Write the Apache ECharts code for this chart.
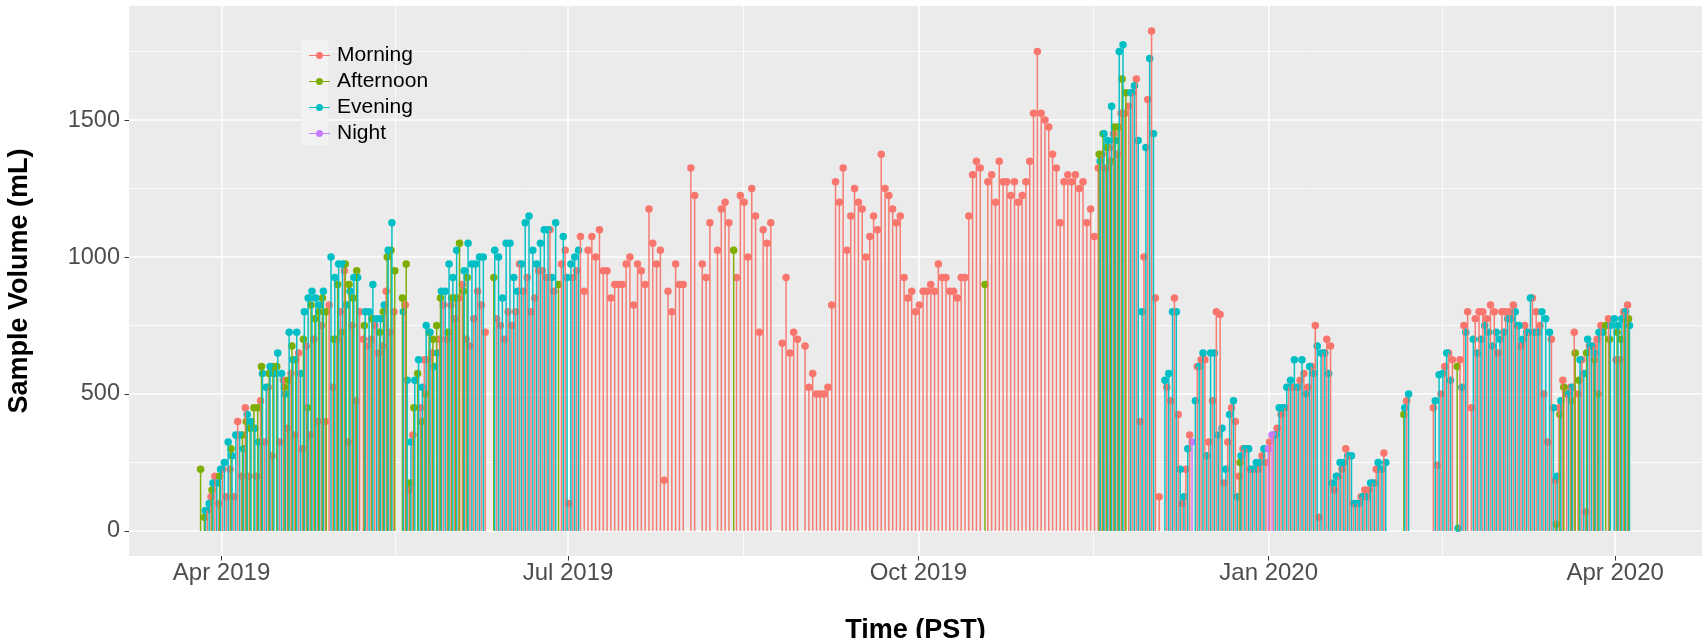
<!DOCTYPE html>
<html>
<head>
<meta charset="utf-8">
<title>Sample Volume</title>
<style>
  html, body { margin: 0; padding: 0; background: #fff; }
  #main { width: 1706px; height: 638px; }
</style>
<script src="https://cdn.jsdelivr.net/npm/echarts@6/dist/echarts.min.js"></script>
</head>
<body>
<div id="main"></div>
<script>
// x is days since 2019-04-01, each pair is [day, volume in mL]
const xTickDays = [0, 91, 183, 275, 366];
const xTickLabels = ['Apr 2019', 'Jul 2019', 'Oct 2019', 'Jan 2020', 'Apr 2020'];
const xMinorDays = [45.5, 137, 229, 320.5];
const yTicks = [0, 500, 1000, 1500];
const yMinor = [250, 750, 1250, 1750];

const morning = [
  [-4,75],[-3,125],[-2,200],[-1,100],[0,225],[1,125],[2,225],[3,125],[4,400],[5,200],[6,450],[7,200],[9,200],[10,475],
  [11,325],[12,525],[13,275],[15,325],[16,550],[17,375],[18,575],[19,350],[20,650],[21,300],[22,675],[23,350],[24,700],
  [25,400],[26,750],[27,400],[28,825],[29,525],[30,700],[31,800],[32,950],[33,325],[34,750],[35,475],[36,800],[37,700],
  [38,675],[39,700],[40,750],[41,650],[42,675],[43,875],[44,725],[45,800],[48,825],[49,150],[50,350],[52,450],[53,625],
  [54,625],[55,650],[57,700],[58,825],[59,700],[60,825],[61,775],[62,850],[63,900],[64,700],[65,675],[66,775],[67,875],
  [68,825],[69,725],[72,775],[73,750],[74,700],[75,800],[76,750],[77,800],[78,975],[79,875],[80,925],[81,800],[82,850],
  [83,950],[84,950],[85,925],[86,1100],[87,875],[89,975],[90,1025],[91,100],[92,925],[93,950],[94,1075],[95,875],[96,1025],
  [97,1075],[98,1000],[99,1100],[100,950],[101,950],[102,850],[103,900],[104,900],[105,900],[106,975],[107,1000],[108,825],
  [109,975],[110,950],[111,900],[112,1175],[113,1050],[114,975],[115,1025],[116,185],[117,875],[118,800],[119,975],[120,900],
  [121,900],[123,1325],[124,1225],[126,975],[127,925],[128,1125],[130,1025],[131,1175],[132,1200],[133,1125],[135,925],
  [136,1225],[137,1200],[138,1000],[139,1250],[140,1150],[141,725],[142,1100],[143,1050],[144,1125],[147,685],[148,925],
  [149,650],[150,725],[151,700],[153,675],[154,525],[155,575],[156,500],[157,500],[158,500],[159,525],[160,825],[161,1275],
  [162,1200],[163,1325],[164,1025],[165,1150],[166,1250],[167,1200],[168,1175],[169,1000],[170,1075],[171,1150],[172,1100],
  [173,1375],[174,1250],[175,1225],[176,1175],[177,1125],[178,1150],[179,925],[180,850],[181,875],[182,800],[183,825],
  [184,875],[185,875],[186,900],[187,875],[188,975],[189,925],[190,925],[191,875],[192,875],[193,850],[194,925],[195,925],
  [196,1150],[197,1300],[198,1350],[199,1325],[201,1275],[202,1300],[203,1200],[204,1350],[205,1275],[206,1275],[207,1225],
  [208,1275],[209,1200],[210,1225],[211,1275],[212,1350],[213,1525],[214,1750],[215,1525],[216,1500],[217,1475],[218,1375],
  [219,1325],[220,1125],[221,1275],[222,1300],[223,1275],[224,1300],[225,1250],[226,1275],[227,1125],[228,1175],[229,1075],
  [230,1325],[231,1375],[232,1325],[233,1400],[234,1450],[235,1375],[236,1525],[237,1525],[238,1550],[239,1600],[240,1650],
  [241,400],[242,1000],[243,1575],[244,1825],[245,850],[246,125],[248,525],[249,475],[250,850],[251,425],[252,100],[253,225],
  [254,350],[256,600],[257,625],[258,625],[259,325],[260,475],[261,800],[262,790],[263,175],[264,325],[265,450],[266,400],
  [267,200],[268,300],[269,300],[270,225],[271,225],[272,225],[273,275],[274,250],[275,325],[276,350],[277,375],[278,425],
  [279,450],[280,525],[281,525],[282,525],[283,550],[284,575],[285,525],[286,600],[287,750],[288,50],[289,650],[290,700],
  [291,675],[292,150],[293,200],[294,225],[295,300],[296,275],[297,100],[298,100],[299,125],[300,150],[301,150],[302,175],
  [303,225],[304,225],[305,285],[311,475],[318,450],[319,240],[320,500],[321,600],[322,650],[323,625],[325,625],[326,750],
  [327,800],[328,450],[329,775],[330,800],[331,800],[332,775],[333,825],[334,800],[335,650],[336,800],[337,800],[338,800],
  [339,825],[340,750],[341,675],[342,750],[343,725],[344,850],[345,800],[346,750],[347,500],[348,325],[349,700],[350,185],
  [351,450],[352,550],[353,500],[354,525],[355,725],[356,500],[357,625],[358,70],[359,675],[360,675],[361,700],[362,750],
  [364,775],[366,625],[367,625],[368,800],[369,825]
];
const afternoon = [
  [-6,225],[-5,50],[-3,150],[-1,200],[2,300],[5,350],[6,400],[7,375],[8,450],[9,450],[10,600],[12,575],[13,600],[14,600],
  [16,525],[17,550],[18,675],[19,625],[21,700],[22,450],[23,825],[24,775],[25,800],[26,850],[27,800],[29,700],[30,900],
  [31,725],[32,975],[33,900],[34,850],[35,950],[37,750],[39,775],[41,725],[42,800],[43,1000],[44,1025],[45,950],[47,850],
  [48,975],[49,175],[50,450],[51,575],[52,400],[53,500],[54,725],[55,700],[56,750],[57,850],[59,725],[60,850],[61,850],
  [62,1050],[63,875],[64,925],[71,925],[88,900],[134,1025],[200,900],[230,1375],[231,1450],[232,1400],[233,1350],[234,1475],
  [235,1475],[236,1650],[237,1600],[267,250],[310,425],[324,600],[350,25],[351,425],[352,525],[354,475],[355,650],[356,550],
  [358,650],[360,625],[361,500],[363,750],[364,700],[366,725],[367,700],[368,775],[369,775]
];
const evening = [
  [-5,75],[-4,100],[-3,175],[-2,175],[-1,225],[0,250],[1,325],[2,275],[3,350],[4,350],[5,300],[6,425],[7,400],[8,375],[9,325],
  [10,575],[11,525],[12,600],[13,575],[14,650],[15,575],[16,500],[17,725],[18,625],[19,725],[20,575],[21,800],[22,850],[23,875],
  [24,850],[25,825],[26,875],[28,1000],[29,925],[30,975],[31,975],[32,825],[33,875],[34,925],[35,925],[37,800],[38,800],[39,900],
  [40,775],[41,775],[42,825],[43,1025],[44,1125],[47,800],[48,550],[49,325],[50,550],[51,625],[52,525],[53,750],[54,725],[55,600],
  [56,650],[57,875],[58,875],[59,975],[60,925],[61,1025],[63,950],[64,1050],[65,975],[66,975],[67,1000],[68,1000],[71,1025],
  [72,1000],[73,850],[74,1050],[75,1050],[76,925],[77,875],[78,975],[79,1125],[80,1150],[81,1025],[82,975],[83,1050],[84,1100],
  [85,1100],[86,925],[87,1125],[89,1075],[90,925],[91,975],[92,1000],[93,1025],[230,1350],[231,1450],[232,1425],[233,1550],
  [234,1425],[235,1750],[236,1775],[238,1600],[239,1625],[240,1425],[241,800],[242,1400],[243,1725],[244,1450],[247,550],[248,575],
  [249,800],[250,800],[251,225],[252,125],[253,300],[255,475],[256,600],[257,650],[258,275],[259,650],[260,650],[261,350],[262,375],
  [263,225],[264,425],[265,475],[266,125],[267,275],[268,300],[269,300],[270,225],[271,250],[272,250],[273,300],[276,350],[277,450],
  [278,450],[279,525],[280,550],[281,625],[282,525],[283,625],[284,500],[285,600],[286,575],[287,675],[288,650],[289,650],[290,575],
  [291,175],[292,200],[293,250],[294,250],[295,275],[296,275],[297,100],[298,100],[299,125],[300,125],[301,175],[302,175],[303,250],
  [304,225],[305,250],[310,450],[311,500],[318,475],[319,570],[320,575],[321,650],[322,550],[324,10],[325,525],[326,725],[328,700],
  [329,650],[330,700],[331,750],[332,725],[333,675],[334,725],[335,700],[336,725],[337,775],[338,775],[339,800],[340,750],[341,700],
  [342,725],[343,850],[344,725],[345,725],[346,800],[347,775],[348,725],[349,450],[350,200],[351,475],[353,500],[354,525],[356,625],
  [357,575],[358,700],[359,675],[360,650],[361,725],[362,725],[364,750],[365,775],[366,750],[367,775],[368,800],[369,750]
];
const night = [[254,325],[274,300],[275,350]];

const groups = [
  { name: 'Morning', color: '#F8766D', hour: 0.25, rows: morning },
  { name: 'Afternoon', color: '#7CAE00', hour: 0.5, rows: afternoon },
  { name: 'Evening', color: '#00BFC4', hour: 0.75, rows: evening },
  { name: 'Night', color: '#C77CFF', hour: 0.88, rows: night }
];

const fontName = '"Liberation Sans", Arial, sans-serif';
const series = [];
groups.forEach(function (g) {
  const rows = g.rows.map(function (r) { return [r[0] + g.hour, r[1]]; });
  series.push({
    name: g.name,
    type: 'scatter',
    data: rows,
    symbolSize: 7.5,
    itemStyle: { color: g.color, opacity: 1 },
    z: 2
  });
  // stems go over the dots
  series.push({
    name: g.name,
    type: 'custom',
    data: rows,
    encode: { x: 0, y: 1 },
    itemStyle: { color: g.color },
    z: 3,
    renderItem: function (params, api) {
      const top = api.coord([api.value(0), api.value(1)]);
      const base = api.coord([api.value(0), 0]);
      return {
        type: 'line',
        shape: { x1: base[0], y1: base[1], x2: top[0], y2: top[1] },
        style: { stroke: g.color, lineWidth: 1.5, opacity: 0.95 }
      };
    }
  });
});

const chart = echarts.init(document.getElementById('main'));
chart.setOption({
  animation: false,
  backgroundColor: '#fff',
  textStyle: { fontFamily: fontName },
  graphic: [{
    type: 'rect',
    shape: { x: 301, y: 40, width: 27, height: 105 },
    style: { fill: '#F2F2F2' },
    z: 4
  }],
  legend: {
    orient: 'vertical',
    left: 304,
    top: 40,
    itemWidth: 21,
    itemHeight: 7,
    itemGap: 5,
    data: groups.map(function (g) { return g.name; }),
    icon: 'path://M0 3H21V4H0ZM10.5 0A3.5 3.5 0 1 1 10.49 0Z',
    textStyle: { fontFamily: fontName, fontSize: 21, color: '#000', padding: [0, 0, 0, 2] },
    selectedMode: false,
    z: 5
  },
  grid: {
    left: 129, right: 4, top: 6, bottom: 82,
    outerBoundsMode: 'none',
    backgroundColor: '#EBEBEB', show: true, borderWidth: 0
  },
  xAxis: [{
    type: 'value',
    min: -24.3,
    max: 388.8,
    name: 'Time (PST)',
    nameLocation: 'middle',
    nameGap: 61,
    nameMoveOverlap: false,
    nameTextStyle: { fontFamily: fontName, fontSize: 27, fontWeight: 'bold', color: '#000' },
    axisLine: { show: false, onZero: false },
    axisTick: { show: true, length: 4.5, customValues: xTickDays, lineStyle: { color: '#333', width: 1 } },
    axisLabel: {
      customValues: xTickDays,
      margin: 5,
      fontSize: 24,
      color: '#4D4D4D',
      formatter: function (v) { return xTickLabels[xTickDays.indexOf(v)]; }
    },
    splitLine: { show: true, lineStyle: { color: '#fff', width: 1.5 } }
  }, {
    type: 'value',
    min: -24.3,
    max: 388.8,
    position: 'bottom',
    axisLine: { show: false, onZero: false },
    axisTick: { show: false, customValues: xMinorDays },
    axisLabel: { show: false },
    splitLine: { show: true, lineStyle: { color: '#fff', width: 0.8 } }
  }],
  yAxis: [{
    type: 'value',
    min: -91.25,
    max: 1916.25,
    name: 'Sample Volume (mL)',
    nameLocation: 'middle',
    nameGap: 96,
    nameRotate: 90,
    nameMoveOverlap: false,
    nameTextStyle: { fontFamily: fontName, fontSize: 27, fontWeight: 'bold', color: '#000' },
    axisLine: { show: false, onZero: false },
    axisTick: { show: true, length: 4.5, customValues: yTicks, lineStyle: { color: '#333', width: 1 } },
    axisLabel: {
      customValues: yTicks,
      margin: 9,
      fontSize: 23.5,
      color: '#4D4D4D',
      formatter: function (v) { return String(v); }
    },
    splitLine: { show: true, lineStyle: { color: '#fff', width: 1.5 } }
  }, {
    type: 'value',
    min: -91.25,
    max: 1916.25,
    position: 'left',
    axisLine: { show: false, onZero: false },
    axisTick: { show: false, customValues: yMinor },
    axisLabel: { show: false },
    splitLine: { show: true, lineStyle: { color: '#fff', width: 0.8 } }
  }],
  series: series
});
</script>
</body>
</html>
